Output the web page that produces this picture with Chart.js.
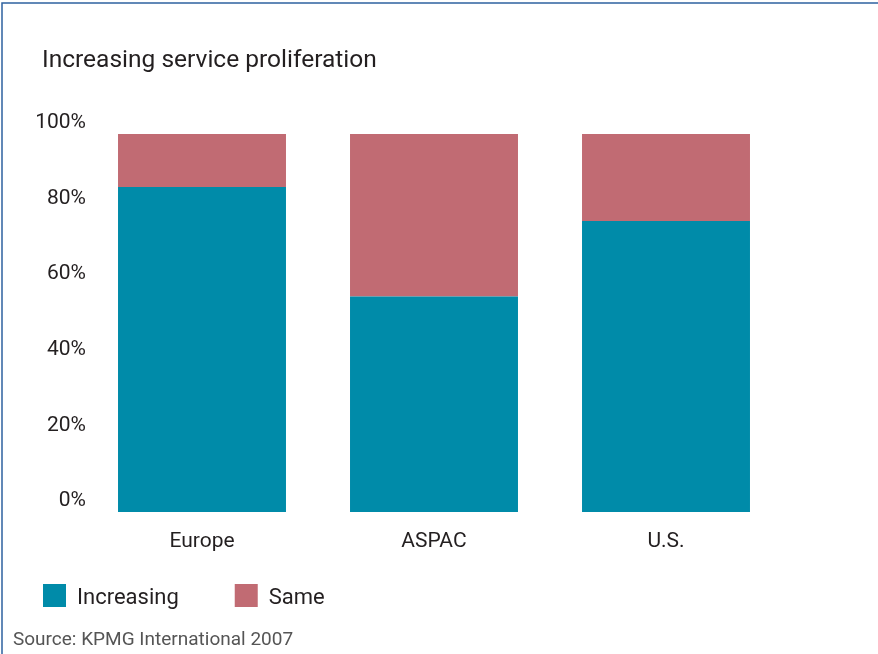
<!DOCTYPE html>
<html>
<head>
<meta charset="utf-8">
<script src="https://cdn.jsdelivr.net/npm/chart.js@4"></script>
<style>
  html, body { margin: 0; padding: 0; background: #ffffff; }
  #wrap { width: 878px; height: 654px; }
</style>
</head>
<body>
<div id="wrap"><canvas id="myChart" width="878" height="654"></canvas></div>
<script>
// regions and shares of respondents
var regioes = ['Europe', 'ASPAC', 'U.S.']
var increasing = [86, 57, 77]
var same = [14, 43, 23]
var yTicks = [0, 20, 40, 60, 80, 100]

var tituloTxt = 'Increasing service proliferation'
var fonteTxt = 'Source: KPMG International 2007'

var teal = '#008ba9'
var rosa = '#c16b73'
var texto = '#231f20'
var FONT = 'Roboto, "Liberation Sans", sans-serif'

// frame, heading, legend and source line
var extras = {
    id: 'extras',
    afterDraw: function (chart) {
        var ctx = chart.ctx
        ctx.save()
        // frame line top and left
        ctx.strokeStyle = '#2e62a0'
        ctx.lineWidth = 1.5
        ctx.beginPath()
        ctx.moveTo(2, 654)
        ctx.lineTo(2, 3)
        ctx.lineTo(878, 3)
        ctx.stroke()

        // heading
        ctx.fillStyle = texto
        ctx.textBaseline = 'middle'
        ctx.textAlign = 'left'
        ctx.font = '24.5px ' + FONT
        ctx.fillText(tituloTxt, 42, 61)

        // legend
        ctx.font = '22px ' + FONT
        var x = 43
        chart.data.datasets.forEach(function (ds) {
            ctx.fillStyle = ds.backgroundColor
            ctx.fillRect(x, 584, 23, 23)
            ctx.fillStyle = texto
            ctx.fillText(ds.label, x + 34, 598)
            x = x + 34 + ctx.measureText(ds.label).width + 56
        })

        // source
        ctx.fillStyle = '#555555'
        ctx.font = '19px ' + FONT
        ctx.fillText(fonteTxt, 13, 640)
        ctx.restore()
    }
}

var ctx = document.getElementById('myChart').getContext('2d')
var grafico = new Chart(ctx, {
    type: 'bar',
    data: {
        labels: regioes,
        datasets: [{
            label: 'Increasing',
            data: increasing,
            backgroundColor: teal,
            barPercentage: 0.724,
            categoryPercentage: 1
        }, {
            label: 'Same',
            data: same,
            backgroundColor: rosa,
            barPercentage: 0.724,
            categoryPercentage: 1
        }]
    },
    options: {
        responsive: false,
        animation: false,
        layout: {
            padding: { top: 134, left: 0, right: 96, bottom: 92 }
        },
        plugins: {
            legend: { display: false },
            title: { display: false },
            tooltip: { enabled: false }
        },
        scales: {
            x: {
                stacked: true,
                grid: { display: false, drawTicks: false },
                border: { display: false },
                ticks: {
                    color: texto,
                    padding: 17,
                    font: { family: FONT, size: 21 }
                },
                afterFit: function (scale) { scale.height = 50 }
            },
            y: {
                stacked: true,
                min: 0,
                max: 100,
                grid: { display: false, drawTicks: false },
                border: { display: false },
                afterBuildTicks: function (scale) {
                    scale.ticks = yTicks.map(function (v) { return { value: v } })
                },
                ticks: {
                    color: texto,
                    padding: 0,
                    labelOffset: -11,
                    font: { family: FONT, size: 21 },
                    callback: function (v) { return v + '%' }
                },
                afterFit: function (scale) { scale.width = 86 }
            }
        }
    },
    plugins: [extras]
})
</script>
</body>
</html>
